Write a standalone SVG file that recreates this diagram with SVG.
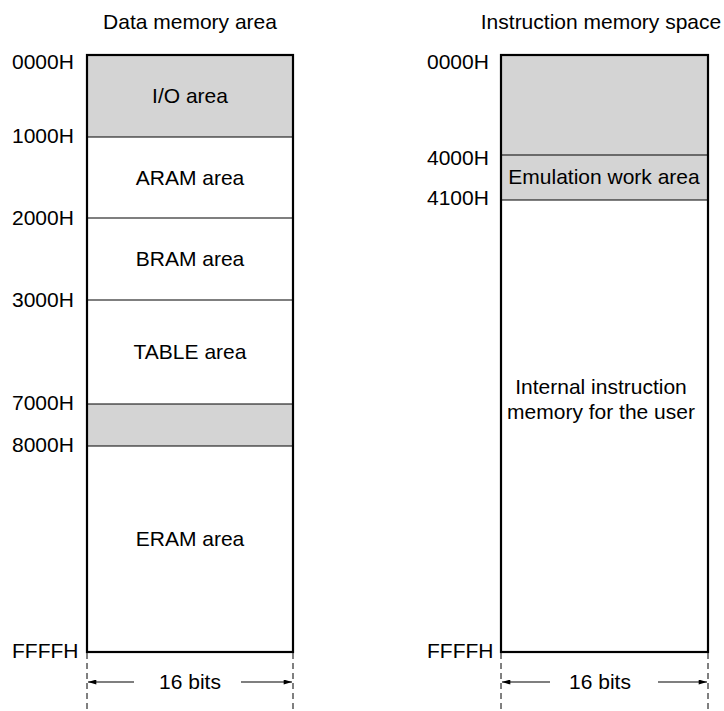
<svg xmlns="http://www.w3.org/2000/svg" width="724" height="711" viewBox="0 0 724 711">
<style>
text{font-family:"Liberation Sans",Arial,sans-serif;font-size:21px;fill:#000}
.c{text-anchor:middle}
.sh{fill:#d4d4d4;stroke:none}
.div{stroke:#000;stroke-width:1.2}
.box{fill:none;stroke:#000;stroke-width:2.2}
.dash{stroke:#000;stroke-width:1;stroke-dasharray:6,4}
.arr{stroke:#000;stroke-width:1.2;fill:none}
</style>
<defs>
<marker id="ah" viewBox="0 0 10 6" refX="10" refY="3" markerWidth="10" markerHeight="5" markerUnits="userSpaceOnUse" orient="auto-start-reverse">
<path d="M0,0 L10,3 L0,6 z" fill="#000"/>
</marker>
</defs>
<g id="titles">
<text class="c" x="190" y="29">Data memory area</text>
<text class="c" x="601" y="29">Instruction memory space</text>
</g>
<g id="data-memory">
<rect class="sh" x="87" y="55" width="206" height="82"/>
<rect class="sh" x="87" y="404" width="206" height="42"/>
<line class="div" x1="87" y1="137" x2="293" y2="137"/>
<line class="div" x1="87" y1="218" x2="293" y2="218"/>
<line class="div" x1="87" y1="300" x2="293" y2="300"/>
<line class="div" x1="87" y1="404" x2="293" y2="404"/>
<line class="div" x1="87" y1="446" x2="293" y2="446"/>
<rect class="box" x="87" y="55" width="206" height="597"/>
<text class="c" x="190" y="103">I/O area</text>
<text class="c" x="190" y="185">ARAM area</text>
<text class="c" x="190" y="266">BRAM area</text>
<text class="c" x="190" y="359">TABLE area</text>
<text class="c" x="190" y="546">ERAM area</text>
<text x="12" y="69">0000H</text>
<text x="12" y="143">1000H</text>
<text x="12" y="225">2000H</text>
<text x="12" y="307">3000H</text>
<text x="12" y="410">7000H</text>
<text x="12" y="452">8000H</text>
<text x="12" y="658">FFFFH</text>
</g>
<g id="instruction-memory">
<rect class="sh" x="501" y="55" width="207" height="145"/>
<line class="div" x1="501" y1="155" x2="708" y2="155"/>
<line class="div" x1="501" y1="200" x2="708" y2="200"/>
<rect class="box" x="501" y="55" width="207" height="597"/>
<text class="c" x="604" y="184">Emulation work area</text>
<text class="c" x="601" y="394">Internal instruction</text>
<text class="c" x="601" y="419">memory for the user</text>
<text x="427" y="69">0000H</text>
<text x="427" y="165">4000H</text>
<text x="427" y="205">4100H</text>
<text x="427" y="658">FFFFH</text>
</g>
<g id="connectors">
<line class="dash" x1="87" y1="653" x2="87" y2="711"/>
<line class="dash" x1="293" y1="653" x2="293" y2="711"/>
<line class="dash" x1="501" y1="653" x2="501" y2="711"/>
<line class="dash" x1="708" y1="653" x2="708" y2="711"/>
<line class="arr" x1="134" y1="682" x2="88" y2="682" marker-end="url(#ah)"/>
<line class="arr" x1="241" y1="682" x2="292" y2="682" marker-end="url(#ah)"/>
<line class="arr" x1="550" y1="682" x2="502" y2="682" marker-end="url(#ah)"/>
<line class="arr" x1="658" y1="682" x2="707" y2="682" marker-end="url(#ah)"/>
</g>
<g id="width-labels">
<text class="c" x="190" y="689">16 bits</text>
<text class="c" x="600" y="689">16 bits</text>
</g>
</svg>
